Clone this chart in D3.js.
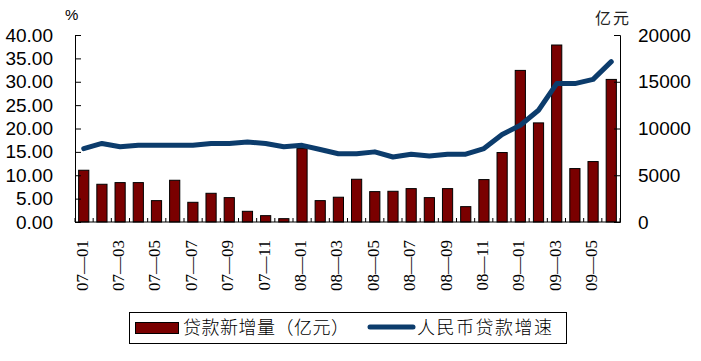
<!DOCTYPE html>
<html><head><meta charset="utf-8">
<script src="https://cdn.jsdelivr.net/npm/d3@7"></script>
<style>
html,body{margin:0;padding:0;background:#fff;}
svg{display:block;}
</style></head>
<body>
<svg id="chart" width="701" height="361"></svg>
<script>
const categories = ["07-01","07-02","07-03","07-04","07-05","07-06","07-07","07-08","07-09","07-10","07-11","07-12",
  "08-01","08-02","08-03","08-04","08-05","08-06","08-07","08-08","08-09","08-10","08-11","08-12",
  "09-01","09-02","09-03","09-04","09-05","09-06"];
const newLoans = [5536,4036,4214,4214,2286,4464,2107,3071,2607,1143,679,357,
  7850,2286,2650,4571,3250,3286,3571,2607,3571,1643,4536,7429,
  16214,10600,18929,5714,6464,15250];
const growthRate = [15.7,16.8,16.1,16.4,16.4,16.4,16.4,16.8,16.8,17.1,16.8,16.1,
  16.4,15.5,14.6,14.6,15.0,13.9,14.5,14.1,14.5,14.5,15.7,18.7,
  20.7,23.9,29.6,29.6,30.5,34.3];
const leftTicks = [0,5,10,15,20,25,30,35,40];
const rightTicks = [0,5000,10000,15000,20000];
const xTickLabels = ["07-01","07-03","07-05","07-07","07-09","07-11","08-01","08-03","08-05","08-07","08-09","08-11","09-01","09-03","09-05"];
const seriesNames = ["贷款新增量（亿元）","人民币贷款增速"];

const barColor = "#7a0000", lineColor = "#0c3c6c";
const svg = d3.select("#chart");
const L = 75, R = 620, T = 35, B = 222;

const x = d3.scaleBand().domain(categories).range([L, R]).paddingInner(0.44).paddingOuter(0.2);
const yL = d3.scaleLinear().domain([0, 40]).range([B, T]);
const yR = d3.scaleLinear().domain([0, 20000]).range([B, T]);

// bars
svg.append("g").selectAll("rect").data(categories).join("rect")
  .attr("x", d => x(d))
  .attr("y", (d, i) => yR(newLoans[i]))
  .attr("width", x.bandwidth())
  .attr("height", (d, i) => B - yR(newLoans[i]))
  .attr("fill", barColor).attr("stroke", "#000").attr("stroke-width", 1);

// line
const line = d3.line().x((d, i) => x(categories[i]) + x.bandwidth() / 2).y(d => yL(d));
svg.append("path").datum(growthRate).attr("d", line)
  .attr("fill", "none").attr("stroke", lineColor).attr("stroke-width", 5)
  .attr("stroke-linejoin", "round").attr("stroke-linecap", "round");

// axes
const numFont = "Liberation Sans, Arial, sans-serif";
const gl = svg.append("g").attr("transform", `translate(${L},0)`)
  .call(d3.axisLeft(yL).tickValues(leftTicks).tickSize(-6).tickPadding(22).tickFormat(d3.format(".2f")));
const gr = svg.append("g").attr("transform", `translate(${R},0)`)
  .call(d3.axisRight(yR).tickValues(rightTicks).tickSize(-6).tickPadding(18).tickFormat(d3.format("d")));
[gl, gr].forEach(g => {
  g.select(".domain").attr("stroke", "#000");
  g.selectAll(".tick line").attr("stroke", "#000");
  g.selectAll("text").attr("font-family", numFont).attr("font-size", 19).attr("fill", "#000");
});

// bottom axis with ticks at band boundaries
svg.append("line").attr("x1", L).attr("x2", R).attr("y1", B).attr("y2", B).attr("stroke", "#000");
const step = x.step();
const x0 = x(categories[0]) - x.paddingOuter() * step - (step - x.bandwidth()) * 0 ;
const bounds = d3.range(categories.length + 1).map(i => L + i * (R - L) / categories.length);
svg.append("g").selectAll("line").data(bounds).join("line")
  .attr("x1", d => d).attr("x2", d => d).attr("y1", B).attr("y2", B - 4).attr("stroke", "#000");

svg.append("g").selectAll("text").data(xTickLabels).join("text")
  .attr("transform", d => `translate(${x(d) + x.bandwidth() / 2 - 2},240) rotate(-90)`)
  .attr("text-anchor", "end").attr("dy", "0.35em")
  .attr("font-family", "Liberation Serif, Times New Roman, serif").attr("font-size", 17)
  .text(d => d.replace("-", "—"));

// unit labels
svg.append("text").attr("x", 65).attr("y", 20).attr("font-family", numFont).attr("font-size", 15).text("%");
svg.append("text").attr("x", 595).attr("y", 24).attr("font-family", "Noto Sans CJK SC, sans-serif")
  .attr("font-size", 16).attr("letter-spacing", 2).attr("fill", "#222").text("亿元");

// legend
const lg = svg.append("g");
lg.append("rect").attr("x", 129.5).attr("y", 312.5).attr("width", 437).attr("height", 31)
  .attr("fill", "#fff").attr("stroke", "#000").attr("stroke-width", 1);
lg.append("rect").attr("x", 135.5).attr("y", 322.5).attr("width", 43).attr("height", 11)
  .attr("fill", barColor).attr("stroke", "#000");
const cjk = "Noto Sans CJK SC, sans-serif";
lg.append("text").attr("x", 183).attr("y", 334).attr("font-family", cjk).attr("font-size", 18)
  .attr("font-weight", 300).attr("letter-spacing", 0.5).text(seriesNames[0]);
lg.append("line").attr("x1", 370).attr("x2", 413).attr("y1", 327).attr("y2", 327)
  .attr("stroke", lineColor).attr("stroke-width", 5).attr("stroke-linecap", "round");
lg.append("text").attr("x", 417).attr("y", 334).attr("font-family", cjk).attr("font-size", 18)
  .attr("font-weight", 300).attr("letter-spacing", 1.5).text(seriesNames[1]);
</script>
</body></html>
